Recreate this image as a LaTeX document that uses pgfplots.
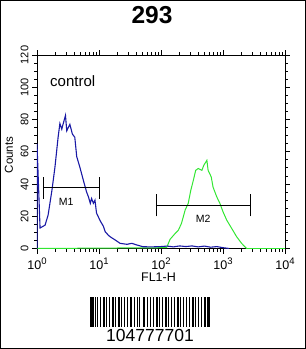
\documentclass[border=0pt]{standalone}
\usepackage{pgfplots}
\pgfplotsset{compat=1.18}
\usepackage{fontspec}
\setmainfont{Liberation Sans}
\definecolor{cblue}{RGB}{25,25,165}
\definecolor{cgreen}{RGB}{50,230,50}
\newcommand{\tp}[1]{10\raisebox{0.75ex}{\fontsize{9.5}{10}\selectfont #1}}
\begin{document}
\begin{tikzpicture}
\useasboundingbox (0pt,0pt) rectangle (306pt,349pt);
\draw[line width=1.2pt] (0.6pt,0.6pt) rectangle (305.4pt,348.4pt);
\node[font=\fontsize{24.5}{26}\selectfont\bfseries] at (152pt,333.5pt) {293};
\begin{axis}[
  at={(37pt,100.5pt)}, anchor=south west,
  scale only axis, width=248pt, height=193.5pt,
  xmode=log, xmin=1, xmax=10000, ymin=0, ymax=120,
  xtick={1,10,100,1000,10000},
  xticklabels={\tp{0},\tp{1},\tp{2},\tp{3},\tp{4}},
  ytick={0,20,40,60,80,100,120},
  minor y tick num=3,
  tick align=outside,
  major tick length=5pt, minor tick length=3pt,
  tick style={black, line width=0.8pt},
  axis line style={line width=0.9pt},
  /pgf/number format/assume math mode=true,
  yticklabel style={rotate=90, anchor=south, font=\fontsize{11}{12}\selectfont},
  xticklabel style={yshift=-1pt, font=\fontsize{12.5}{13}\selectfont},
  xlabel={FL1-H}, ylabel={Counts},
  xlabel style={font=\fontsize{12.5}{13}\selectfont, at={(axis description cs:0.49,-0.147)}, anchor=center},
  ylabel style={font=\fontsize{11.5}{12}\selectfont, at={(axis description cs:-0.113,0.483)}, anchor=center},
]
\addplot[cgreen, line width=1pt] coordinates {
(1,0) (123,0.5) (140,5.7) (170,9.4) (191,11.4) (214,15.6) (245,23.8) (275,28)
(302,36) (331,42) (363,48.5) (398,49.6) (457,48.5) (490,51.6) (550,54.7)
(575,48.5) (646,44.4) (692,38) (794,32) (891,28) (1000,22.8) (1148,17.6)
(1380,12.5) (1660,7.3) (1995,3.2) (2399,0) (10000,0)
};
\addplot[cblue, line width=1.1pt] coordinates {
(1,0) (1,65) (1.12,12.7) (1.35,14.5) (1.51,20.7) (1.74,36) (1.95,50.6)
(2.19,69) (2.34,77.5) (2.51,74) (2.63,77) (2.88,82.5) (3.02,73) (3.20,75)
(3.39,77) (3.72,71) (4.07,69) (4.37,57) (4.90,50.6) (5.62,42) (6.31,35)
(6.76,32) (7.24,28) (7.59,31) (8.13,28) (8.61,30) (9.12,22) (10.5,17)
(11.7,14) (12.6,10.4) (14.1,8.3) (15.1,7.3) (18.2,5.3) (21.9,3.2) (28.2,2.6)
(33.9,3.2) (40.7,2.2) (51.3,1.1) (70.8,1.0) (100,1.2) (126,1.5) (158,1.0)
(200,1.6) (251,1.2) (316,1.6) (398,1.0) (501,1.5) (631,0.8) (794,1.2)
(1000,0.5) (1259,0)
};
% gates
\addplot[black, line width=0.9pt] coordinates {(1.25,38) (10,38)};
\addplot[black, line width=0.9pt] coordinates {(1.25,31) (1.25,44.5)};
\addplot[black, line width=0.9pt] coordinates {(10,31) (10,44.5)};
\addplot[black, line width=0.9pt] coordinates {(83,27) (2750,27)};
\addplot[black, line width=0.9pt] coordinates {(83,20) (83,33.5)};
\addplot[black, line width=0.9pt] coordinates {(2750,20) (2750,33.5)};
\node[font=\fontsize{10.5}{11}\selectfont] at (axis cs:2.95,29) {M1};
\node[font=\fontsize{10.5}{11}\selectfont] at (axis cs:477,18.5) {M2};
\node[font=\fontsize{15}{16}\selectfont, anchor=west, inner sep=0pt] at (axis cs:1.62,104) {control};
\end{axis}
% barcode
\foreach \s/\w in {0/4,5/1,7/1,10/1,13/2,16/1,19/1,22/2,25/1,28/2,31/1,34/1,37/1,40/2,44/1,47/1,49/1,53/2,57/1,60/1,63/1,66/2,69/1,72/1,75/2,78/1,81/1,84/1,87/2,90/1,93/1,96/1,99/1,102/2,105/1,108/1,111/1,114/2,117/3}
  \fill[black] ({(90+\s)*1pt},22pt) rectangle ({(90+\s+\w)*1pt},52pt);
\node[font=\fontsize{17.5}{18}\selectfont] at (150pt,14pt) {104777701};
\end{tikzpicture}
\end{document}
